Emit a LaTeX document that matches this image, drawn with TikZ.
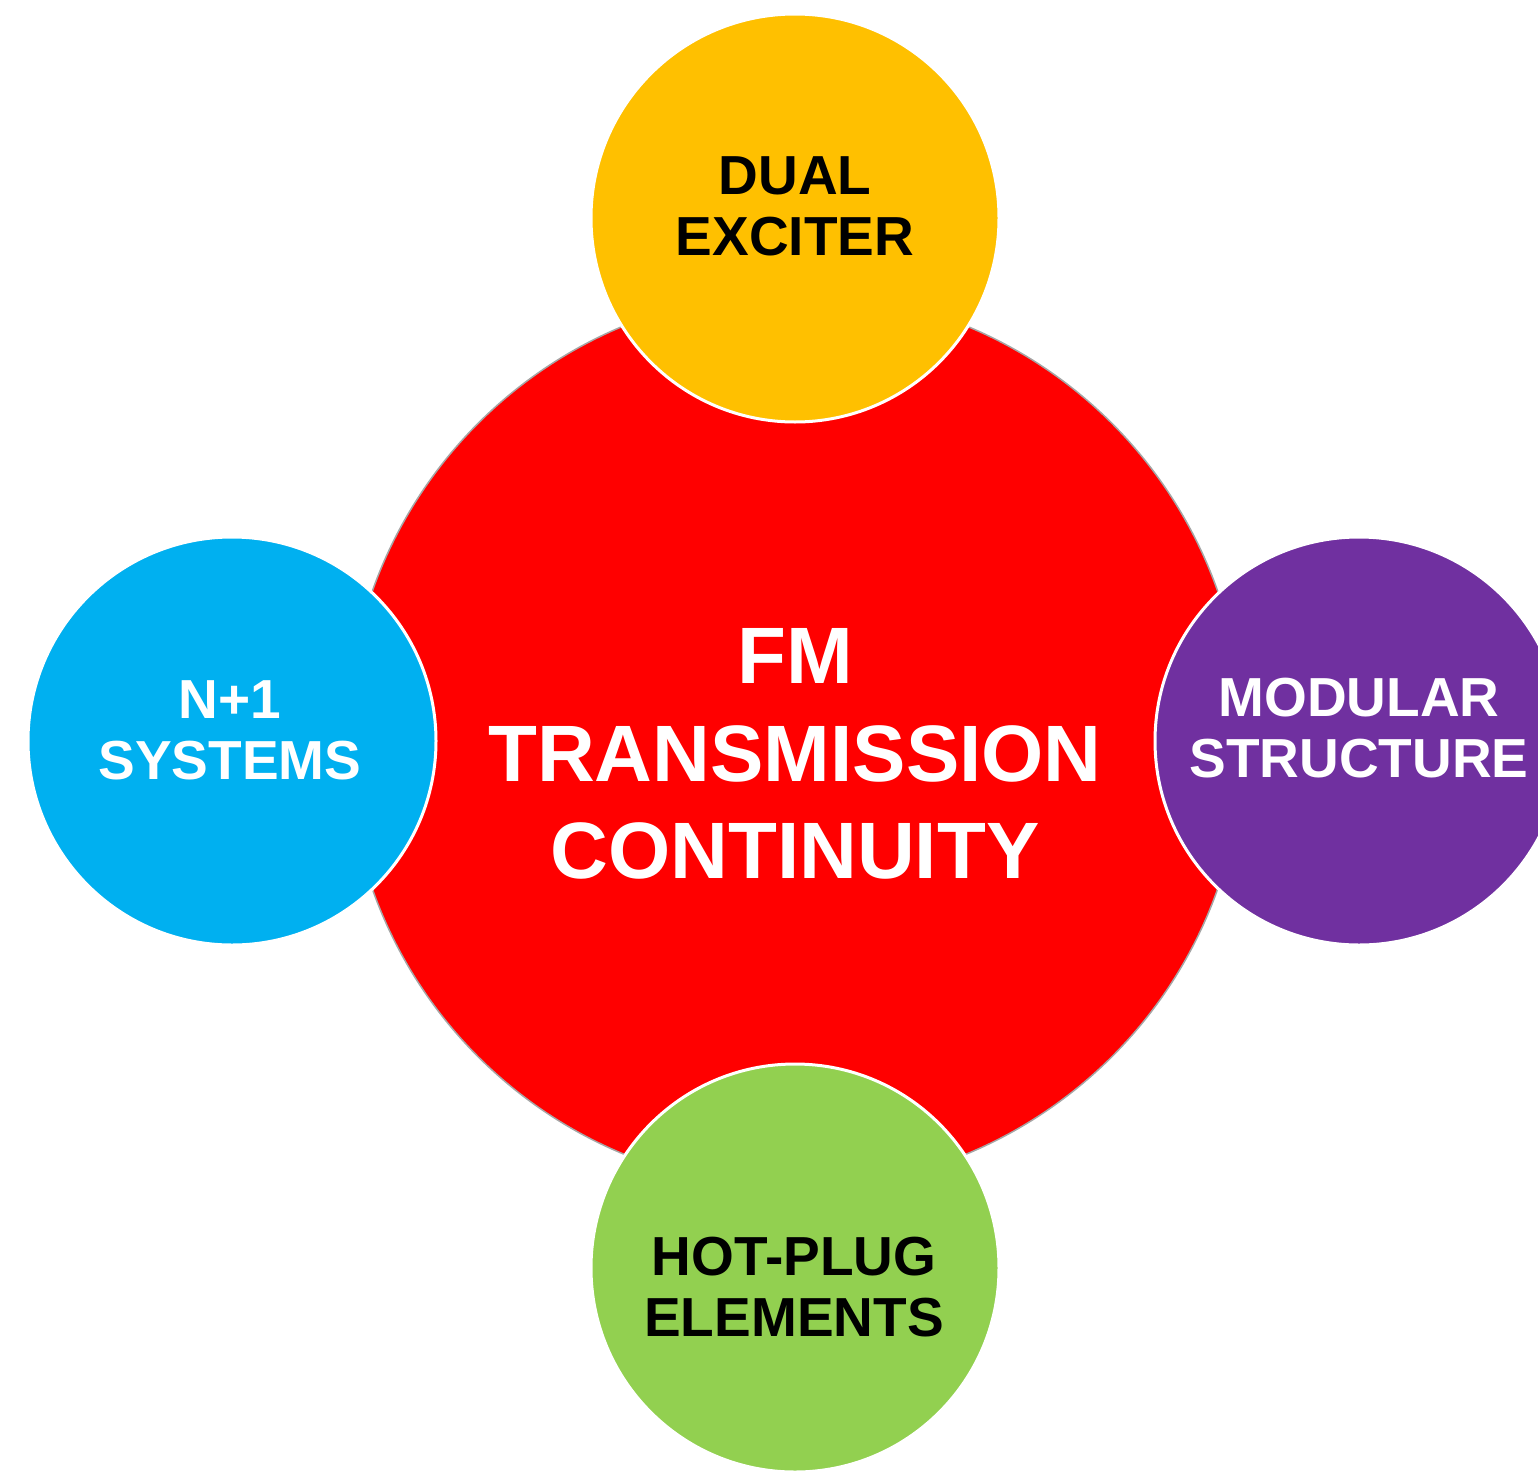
\documentclass[tikz,border=0pt]{standalone}
\usepackage{fontspec}
\setmainfont{Liberation Sans}
\definecolor{cred}{HTML}{FF0000}
\definecolor{cyellow}{HTML}{FFC000}
\definecolor{cblue}{HTML}{00B0F0}
\definecolor{cpurple}{HTML}{7030A0}
\definecolor{cgreen}{HTML}{92D050}
\tikzset{
  bigcirc/.style={circle, inner sep=0pt, minimum size=896pt, fill=cred, draw=gray!70, line width=1.5pt},
  smallcirc/.style={circle, inner sep=0pt, minimum size=408pt, draw=white, line width=3pt},
  bigtxt/.style={anchor=base, inner sep=0pt, text=white, font=\fontsize{80}{96}\selectfont\bfseries},
  smalltxt/.style={anchor=base, inner sep=0pt, font=\fontsize{55}{60}\selectfont\bfseries},
}
\begin{document}
\begin{tikzpicture}[x=1pt,y=-1pt]
\useasboundingbox (0,0) rectangle (1538,1472);
\node[bigcirc] (center) at (795,740) {};
\node[smallcirc, fill=cyellow] (top) at (795,218) {};
\node[smallcirc, fill=cblue] (left) at (232,741) {};
\node[smallcirc, fill=cpurple] (right) at (1359,741) {};
\node[smallcirc, fill=cgreen] (bottom) at (795,1268) {};
% central text
\node[bigtxt] (c1) at (795,683) {FM};
\node[bigtxt] (c2) at (795,781) {TRANSMISSION};
\node[bigtxt] (c3) at (795,878) {CONTINUITY};
% top
\node[smalltxt, text=black] (t1) at (795,194) {DUAL};
\node[smalltxt, text=black] (t2) at (795,255) {EXCITER};
% left
\node[smalltxt, text=white] (l1) at (230,718) {N+1};
\node[smalltxt, text=white] (l2) at (230,779) {SYSTEMS};
% right
\node[smalltxt, text=white] (r1) at (1359,716) {MODULAR};
\node[smalltxt, text=white] (r2) at (1359,777) {STRUCTURE};
% bottom
\node[smalltxt, text=black] (b1) at (794,1275) {HOT-PLUG};
\node[smalltxt, text=black] (b2) at (794,1336) {ELEMENTS};
\end{tikzpicture}
\end{document}
